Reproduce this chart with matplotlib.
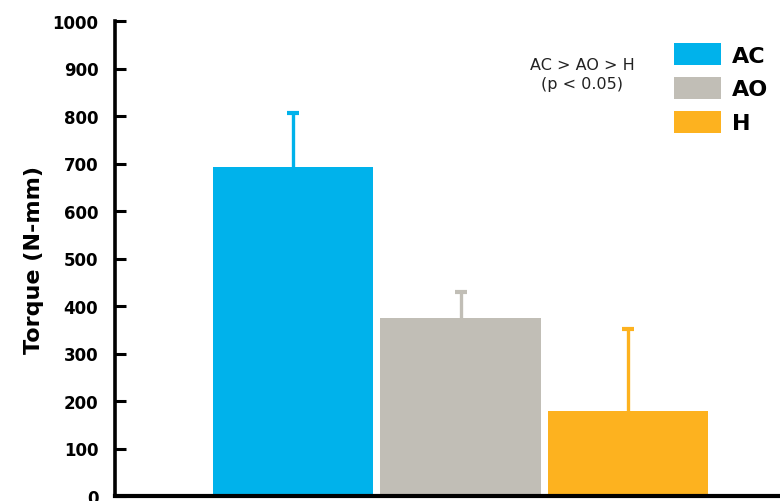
import matplotlib
matplotlib.use("Agg")
import matplotlib.pyplot as plt
from matplotlib.patches import Patch
import numpy as np

categories = ["AC", "AO", "H"]
means = [692, 374, 180]
upper_err = [114, 55, 171]
colors = ["#00B2EB", "#C1BEB6", "#FDB21F"]
yticks = [0, 100, 200, 300, 400, 500, 600, 700, 800, 900, 1000]

plt.rcParams['font.family'] = ['DejaVu Sans']

fig = plt.figure(figsize=(7.8, 5.02), dpi=100)
ax = fig.add_axes([115/780, 5/502, 665/780, 475/502])

x = np.arange(len(categories))
ax.bar(x, means, width=0.96, color=colors, zorder=2)
for xi, m, e, c in zip(x, means, upper_err, colors):
    eb = ax.errorbar(xi, m, yerr=[[0], [e]], fmt='none', ecolor=c,
                     elinewidth=2.4, capsize=4, capthick=3, zorder=1)
    eb[1][0].set_visible(False)

ax.set_xlim(-1.063, 2.907)
ax.set_ylim(0, 1000)
ax.set_yticks(yticks)
ax.set_yticklabels([str(t) for t in yticks], fontsize=12, fontweight='bold')
ax.set_xticks([])
ax.tick_params(axis='y', direction='in', length=8, width=2.2, pad=12)
for s in ['top', 'right']:
    ax.spines[s].set_visible(False)
ax.spines['left'].set_linewidth(2.6)
ax.spines['bottom'].set_linewidth(3)
ax.set_ylabel("Torque (N-mm)", fontsize=16, fontweight='bold', labelpad=6)

ax.text(582/780, 1 - 75/502, "AC > AO > H\n(p < 0.05)", transform=fig.transFigure,
        fontsize=11.5, ha='center', va='center', linespacing=1.35, color='#222222')

handles = [Patch(facecolor=c, edgecolor='none', label=l) for c, l in zip(colors, categories)]
leg = fig.legend(handles=handles, loc='upper left', bbox_to_anchor=(674/780, 1 - 45/502),
                 frameon=False, prop={'weight': 'bold', 'size': 16},
                 handlelength=2.1, handleheight=1.0, handletextpad=0.5,
                 labelspacing=0.55, borderaxespad=0, borderpad=0)
for p in leg.get_patches():
    p.set_height(p.get_height() * 1.1)
    p.set_y(p.get_y() - p.get_height() * 0.05)

fig.savefig("out.png", dpi=100)
